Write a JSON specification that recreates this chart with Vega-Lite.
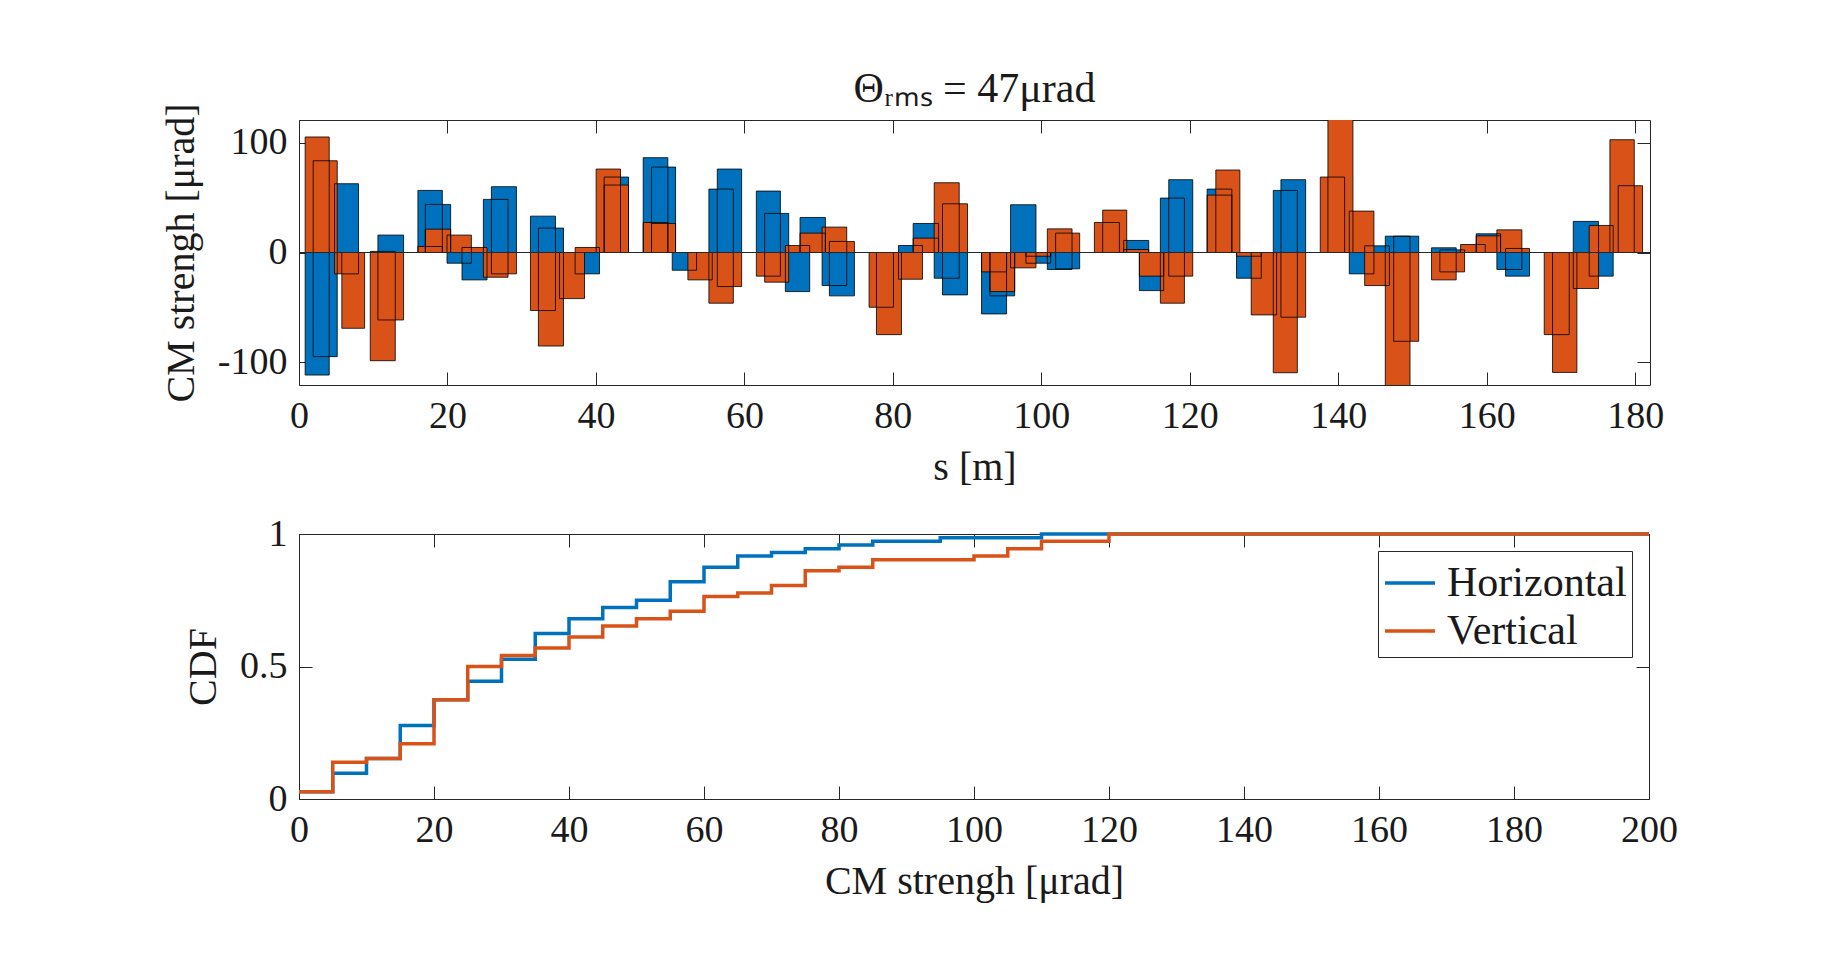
{
  "$schema": "https://vega.github.io/schema/vega-lite/v6.json",
  "background": "white",
  "padding": {"left": 160, "top": 67, "right": 5, "bottom": 5},
  "datasets": {
    "cm": [
      {"s0": 0.83, "s1": 4.07, "plane": "Horizontal", "theta": -111.9},
      {"s0": 1.91, "s1": 5.15, "plane": "Horizontal", "theta": -95.1},
      {"s0": 4.79, "s1": 8.02, "plane": "Horizontal", "theta": 62.8},
      {"s0": 5.77, "s1": 8.84, "plane": "Horizontal", "theta": 0},
      {"s0": 9.6, "s1": 12.97, "plane": "Horizontal", "theta": 1},
      {"s0": 10.63, "s1": 14.09, "plane": "Horizontal", "theta": 15.9},
      {"s0": 16.02, "s1": 19.31, "plane": "Horizontal", "theta": 56.7},
      {"s0": 17.02, "s1": 20.43, "plane": "Horizontal", "theta": 43.9},
      {"s0": 19.94, "s1": 23.22, "plane": "Horizontal", "theta": -9.8},
      {"s0": 21.96, "s1": 25.33, "plane": "Horizontal", "theta": -25},
      {"s0": 24.84, "s1": 28.16, "plane": "Horizontal", "theta": 48.5},
      {"s0": 25.92, "s1": 29.29, "plane": "Horizontal", "theta": 60.1},
      {"s0": 31.18, "s1": 34.55, "plane": "Horizontal", "theta": 33.2},
      {"s0": 32.25, "s1": 35.63, "plane": "Horizontal", "theta": 22.3},
      {"s0": 35.09, "s1": 38.46, "plane": "Horizontal", "theta": 0},
      {"s0": 37.2, "s1": 40.48, "plane": "Horizontal", "theta": -19.5},
      {"s0": 40.03, "s1": 43.31, "plane": "Horizontal", "theta": 0},
      {"s0": 41.11, "s1": 44.39, "plane": "Horizontal", "theta": 68.9},
      {"s0": 46.37, "s1": 49.69, "plane": "Horizontal", "theta": 86.6},
      {"s0": 47.49, "s1": 50.73, "plane": "Horizontal", "theta": 78},
      {"s0": 50.28, "s1": 53.56, "plane": "Horizontal", "theta": -16.2},
      {"s0": 52.39, "s1": 55.67, "plane": "Horizontal", "theta": 0},
      {"s0": 55.22, "s1": 58.51, "plane": "Horizontal", "theta": 57.9},
      {"s0": 56.35, "s1": 59.63, "plane": "Horizontal", "theta": 76.2},
      {"s0": 61.61, "s1": 64.85, "plane": "Horizontal", "theta": 56.1},
      {"s0": 62.73, "s1": 65.97, "plane": "Horizontal", "theta": 35.7},
      {"s0": 65.52, "s1": 68.8, "plane": "Horizontal", "theta": -35.7},
      {"s0": 67.5, "s1": 70.91, "plane": "Horizontal", "theta": 32},
      {"s0": 70.47, "s1": 73.79, "plane": "Horizontal", "theta": -30.2},
      {"s0": 71.45, "s1": 74.82, "plane": "Horizontal", "theta": -39.6},
      {"s0": 76.8, "s1": 80.08, "plane": "Horizontal", "theta": 0},
      {"s0": 77.79, "s1": 81.16, "plane": "Horizontal", "theta": 0},
      {"s0": 80.76, "s1": 83.99, "plane": "Horizontal", "theta": 6.4},
      {"s0": 82.74, "s1": 86.16, "plane": "Horizontal", "theta": 26.5},
      {"s0": 85.57, "s1": 88.94, "plane": "Horizontal", "theta": -23.5},
      {"s0": 86.69, "s1": 90.06, "plane": "Horizontal", "theta": -38.7},
      {"s0": 91.95, "s1": 95.32, "plane": "Horizontal", "theta": -56.1},
      {"s0": 93.08, "s1": 96.41, "plane": "Horizontal", "theta": -39.6},
      {"s0": 95.86, "s1": 99.28, "plane": "Horizontal", "theta": 43.6},
      {"s0": 97.93, "s1": 101.26, "plane": "Horizontal", "theta": -9.8},
      {"s0": 100.81, "s1": 104.14, "plane": "Horizontal", "theta": -15.5},
      {"s0": 101.93, "s1": 105.17, "plane": "Horizontal", "theta": -14.9},
      {"s0": 107.15, "s1": 110.52, "plane": "Horizontal", "theta": 0},
      {"s0": 108.27, "s1": 111.51, "plane": "Horizontal", "theta": 0},
      {"s0": 111.1, "s1": 114.47, "plane": "Horizontal", "theta": 11},
      {"s0": 113.21, "s1": 116.49, "plane": "Horizontal", "theta": -34.8},
      {"s0": 116.04, "s1": 119.28, "plane": "Horizontal", "theta": 49.7},
      {"s0": 117.17, "s1": 120.4, "plane": "Horizontal", "theta": 66.5},
      {"s0": 122.34, "s1": 125.67, "plane": "Horizontal", "theta": 57.9},
      {"s0": 123.51, "s1": 126.75, "plane": "Horizontal", "theta": 0},
      {"s0": 126.3, "s1": 129.63, "plane": "Horizontal", "theta": -23.5},
      {"s0": 128.28, "s1": 131.7, "plane": "Horizontal", "theta": 0},
      {"s0": 131.25, "s1": 134.49, "plane": "Horizontal", "theta": 56.7},
      {"s0": 132.28, "s1": 135.61, "plane": "Horizontal", "theta": 66.5},
      {"s0": 137.58, "s1": 140.86, "plane": "Horizontal", "theta": 0},
      {"s0": 138.61, "s1": 141.98, "plane": "Horizontal", "theta": 0},
      {"s0": 141.49, "s1": 144.81, "plane": "Horizontal", "theta": -19.5},
      {"s0": 143.56, "s1": 146.89, "plane": "Horizontal", "theta": 6.1},
      {"s0": 146.34, "s1": 149.67, "plane": "Horizontal", "theta": 14.9},
      {"s0": 147.47, "s1": 150.84, "plane": "Horizontal", "theta": 14.9},
      {"s0": 152.57, "s1": 155.89, "plane": "Horizontal", "theta": 4.3},
      {"s0": 153.69, "s1": 157.02, "plane": "Horizontal", "theta": 2.4},
      {"s0": 156.48, "s1": 159.8, "plane": "Horizontal", "theta": 0},
      {"s0": 158.59, "s1": 161.87, "plane": "Horizontal", "theta": 17.1},
      {"s0": 161.37, "s1": 164.74, "plane": "Horizontal", "theta": -15.5},
      {"s0": 162.54, "s1": 165.77, "plane": "Horizontal", "theta": -21.6},
      {"s0": 167.75, "s1": 171.12, "plane": "Horizontal", "theta": 0},
      {"s0": 168.87, "s1": 172.15, "plane": "Horizontal", "theta": 0},
      {"s0": 171.66, "s1": 175.07, "plane": "Horizontal", "theta": 28.4},
      {"s0": 173.81, "s1": 177.04, "plane": "Horizontal", "theta": -21.6},
      {"s0": 176.6, "s1": 179.88, "plane": "Horizontal", "theta": 0},
      {"s0": 177.72, "s1": 181.0, "plane": "Horizontal", "theta": 0},
      {"s0": 0.83, "s1": 4.07, "plane": "Vertical", "theta": 105.5},
      {"s0": 1.91, "s1": 5.15, "plane": "Vertical", "theta": 83.8},
      {"s0": 4.79, "s1": 8.02, "plane": "Vertical", "theta": -19.5},
      {"s0": 5.77, "s1": 8.84, "plane": "Vertical", "theta": -69.2},
      {"s0": 9.6, "s1": 12.97, "plane": "Vertical", "theta": -98.8},
      {"s0": 10.63, "s1": 14.09, "plane": "Vertical", "theta": -61.6},
      {"s0": 16.02, "s1": 19.31, "plane": "Vertical", "theta": 5.5},
      {"s0": 17.02, "s1": 20.43, "plane": "Vertical", "theta": 21.3},
      {"s0": 19.94, "s1": 23.22, "plane": "Vertical", "theta": 15.9},
      {"s0": 21.96, "s1": 25.33, "plane": "Vertical", "theta": 4.6},
      {"s0": 24.84, "s1": 28.16, "plane": "Vertical", "theta": -22.6},
      {"s0": 25.92, "s1": 29.29, "plane": "Vertical", "theta": -19.5},
      {"s0": 31.18, "s1": 34.55, "plane": "Vertical", "theta": -53},
      {"s0": 32.25, "s1": 35.63, "plane": "Vertical", "theta": -85.4},
      {"s0": 35.09, "s1": 38.46, "plane": "Vertical", "theta": -42.1},
      {"s0": 37.2, "s1": 40.48, "plane": "Vertical", "theta": 4.6},
      {"s0": 40.03, "s1": 43.31, "plane": "Vertical", "theta": 76.2},
      {"s0": 41.11, "s1": 44.39, "plane": "Vertical", "theta": 61.6},
      {"s0": 46.37, "s1": 49.69, "plane": "Vertical", "theta": 27.4},
      {"s0": 47.49, "s1": 50.73, "plane": "Vertical", "theta": 26.5},
      {"s0": 50.28, "s1": 53.56, "plane": "Vertical", "theta": 0},
      {"s0": 52.39, "s1": 55.67, "plane": "Vertical", "theta": -25},
      {"s0": 55.22, "s1": 58.51, "plane": "Vertical", "theta": -46.3},
      {"s0": 56.35, "s1": 59.63, "plane": "Vertical", "theta": -31.1},
      {"s0": 61.61, "s1": 64.85, "plane": "Vertical", "theta": -21.6},
      {"s0": 62.73, "s1": 65.97, "plane": "Vertical", "theta": -27.1},
      {"s0": 65.52, "s1": 68.8, "plane": "Vertical", "theta": 6.4},
      {"s0": 67.5, "s1": 70.91, "plane": "Vertical", "theta": 17.7},
      {"s0": 70.47, "s1": 73.79, "plane": "Vertical", "theta": 23.2},
      {"s0": 71.45, "s1": 74.82, "plane": "Vertical", "theta": 10.1},
      {"s0": 76.8, "s1": 80.08, "plane": "Vertical", "theta": -50},
      {"s0": 77.79, "s1": 81.16, "plane": "Vertical", "theta": -75},
      {"s0": 80.76, "s1": 83.99, "plane": "Vertical", "theta": -24.4},
      {"s0": 82.74, "s1": 86.16, "plane": "Vertical", "theta": 13.1},
      {"s0": 85.57, "s1": 88.94, "plane": "Vertical", "theta": 63.7},
      {"s0": 86.69, "s1": 90.06, "plane": "Vertical", "theta": 44.5},
      {"s0": 91.95, "s1": 95.32, "plane": "Vertical", "theta": -17.7},
      {"s0": 93.08, "s1": 96.41, "plane": "Vertical", "theta": -35.7},
      {"s0": 95.86, "s1": 99.28, "plane": "Vertical", "theta": -14},
      {"s0": 97.93, "s1": 101.26, "plane": "Vertical", "theta": -3.4},
      {"s0": 100.81, "s1": 104.14, "plane": "Vertical", "theta": 21.6},
      {"s0": 101.93, "s1": 105.17, "plane": "Vertical", "theta": 17.7},
      {"s0": 107.15, "s1": 110.52, "plane": "Vertical", "theta": 27.4},
      {"s0": 108.27, "s1": 111.51, "plane": "Vertical", "theta": 38.7},
      {"s0": 111.1, "s1": 114.47, "plane": "Vertical", "theta": 2.7},
      {"s0": 113.21, "s1": 116.49, "plane": "Vertical", "theta": -21.6},
      {"s0": 116.04, "s1": 119.28, "plane": "Vertical", "theta": -46.3},
      {"s0": 117.17, "s1": 120.4, "plane": "Vertical", "theta": -21.6},
      {"s0": 122.34, "s1": 125.67, "plane": "Vertical", "theta": 52.4},
      {"s0": 123.51, "s1": 126.75, "plane": "Vertical", "theta": 75.3},
      {"s0": 126.3, "s1": 129.63, "plane": "Vertical", "theta": -3.4},
      {"s0": 128.28, "s1": 131.7, "plane": "Vertical", "theta": -57},
      {"s0": 131.25, "s1": 134.49, "plane": "Vertical", "theta": -109.8},
      {"s0": 132.28, "s1": 135.61, "plane": "Vertical", "theta": -59.1},
      {"s0": 137.58, "s1": 140.86, "plane": "Vertical", "theta": 68.9},
      {"s0": 138.61, "s1": 141.98, "plane": "Vertical", "theta": 125},
      {"s0": 141.49, "s1": 144.81, "plane": "Vertical", "theta": 37.8},
      {"s0": 143.56, "s1": 146.89, "plane": "Vertical", "theta": -30.2},
      {"s0": 146.34, "s1": 149.67, "plane": "Vertical", "theta": -125},
      {"s0": 147.47, "s1": 150.84, "plane": "Vertical", "theta": -81.1},
      {"s0": 152.57, "s1": 155.89, "plane": "Vertical", "theta": -25},
      {"s0": 153.69, "s1": 157.02, "plane": "Vertical", "theta": -17.7},
      {"s0": 156.48, "s1": 159.8, "plane": "Vertical", "theta": 7.3},
      {"s0": 158.59, "s1": 161.87, "plane": "Vertical", "theta": 15.2},
      {"s0": 161.37, "s1": 164.74, "plane": "Vertical", "theta": 20.7},
      {"s0": 162.54, "s1": 165.77, "plane": "Vertical", "theta": 3.7},
      {"s0": 167.75, "s1": 171.12, "plane": "Vertical", "theta": -75},
      {"s0": 168.87, "s1": 172.15, "plane": "Vertical", "theta": -109.5},
      {"s0": 171.66, "s1": 175.07, "plane": "Vertical", "theta": -32.9},
      {"s0": 173.81, "s1": 177.04, "plane": "Vertical", "theta": 24.7},
      {"s0": 176.6, "s1": 179.88, "plane": "Vertical", "theta": 103},
      {"s0": 177.72, "s1": 181.0, "plane": "Vertical", "theta": 61}
    ],
    "cdf": [
      {"x": 0, "plane": "Horizontal", "cdf": 0.0278},
      {"x": 5, "plane": "Horizontal", "cdf": 0.0972},
      {"x": 10, "plane": "Horizontal", "cdf": 0.1528},
      {"x": 15, "plane": "Horizontal", "cdf": 0.2778},
      {"x": 20, "plane": "Horizontal", "cdf": 0.375},
      {"x": 25, "plane": "Horizontal", "cdf": 0.4444},
      {"x": 30, "plane": "Horizontal", "cdf": 0.5278},
      {"x": 35, "plane": "Horizontal", "cdf": 0.625},
      {"x": 40, "plane": "Horizontal", "cdf": 0.6806},
      {"x": 45, "plane": "Horizontal", "cdf": 0.7222},
      {"x": 50, "plane": "Horizontal", "cdf": 0.75},
      {"x": 55, "plane": "Horizontal", "cdf": 0.8194},
      {"x": 60, "plane": "Horizontal", "cdf": 0.875},
      {"x": 65, "plane": "Horizontal", "cdf": 0.9167},
      {"x": 70, "plane": "Horizontal", "cdf": 0.9306},
      {"x": 75, "plane": "Horizontal", "cdf": 0.9444},
      {"x": 80, "plane": "Horizontal", "cdf": 0.9583},
      {"x": 85, "plane": "Horizontal", "cdf": 0.9722},
      {"x": 95, "plane": "Horizontal", "cdf": 0.9861},
      {"x": 110, "plane": "Horizontal", "cdf": 1},
      {"x": 200, "plane": "Horizontal", "cdf": 1},
      {"x": 0, "plane": "Vertical", "cdf": 0.0278},
      {"x": 5, "plane": "Vertical", "cdf": 0.1389},
      {"x": 10, "plane": "Vertical", "cdf": 0.1528},
      {"x": 15, "plane": "Vertical", "cdf": 0.2083},
      {"x": 20, "plane": "Vertical", "cdf": 0.375},
      {"x": 25, "plane": "Vertical", "cdf": 0.5},
      {"x": 30, "plane": "Vertical", "cdf": 0.5417},
      {"x": 35, "plane": "Vertical", "cdf": 0.5694},
      {"x": 40, "plane": "Vertical", "cdf": 0.6111},
      {"x": 45, "plane": "Vertical", "cdf": 0.6528},
      {"x": 50, "plane": "Vertical", "cdf": 0.6806},
      {"x": 55, "plane": "Vertical", "cdf": 0.7083},
      {"x": 60, "plane": "Vertical", "cdf": 0.7639},
      {"x": 65, "plane": "Vertical", "cdf": 0.7778},
      {"x": 70, "plane": "Vertical", "cdf": 0.8056},
      {"x": 75, "plane": "Vertical", "cdf": 0.8611},
      {"x": 80, "plane": "Vertical", "cdf": 0.875},
      {"x": 85, "plane": "Vertical", "cdf": 0.9028},
      {"x": 100, "plane": "Vertical", "cdf": 0.9167},
      {"x": 105, "plane": "Vertical", "cdf": 0.9444},
      {"x": 110, "plane": "Vertical", "cdf": 0.9722},
      {"x": 120, "plane": "Vertical", "cdf": 1},
      {"x": 200, "plane": "Vertical", "cdf": 1}
    ]
  },
  "config": {
    "font": "Liberation Serif",
    "view": {"stroke": "#262626", "strokeWidth": 1},
    "axis": {
      "grid": false,
      "domain": false,
      "tickColor": "#262626",
      "tickSize": -13,
      "tickWidth": 1,
      "labelFlush": false,
      "labelFont": "Liberation Serif",
      "labelFontSize": 38,
      "labelColor": "#1a1a1a",
      "labelPadding": 25,
      "titleFont": "Liberation Serif",
      "titleFontSize": 40,
      "titleFontWeight": "normal",
      "titleColor": "#1a1a1a"
    },
    "title": {"font": "Liberation Serif", "fontSize": 42, "fontWeight": "normal", "color": "#1a1a1a"}
  },
  "spacing": 149,
  "bounds": "flush",
  "resolve": {"scale": {"color": "independent"}, "legend": {"color": "independent"}},
  "vconcat": [
    {
      "width": 1351,
      "height": 265,
      "title": {"text": "Θᵣₘₛ = 47μrad", "offset": -8},
      "data": {"name": "cm"},
      "layer": [
        {
          "mark": {"type": "rect", "clip": true, "strokeWidth": 0},
          "encoding": {
            "x": {"field": "s0", "type": "quantitative", "scale": {"domain": [0, 182], "nice": false, "zero": false},
                  "axis": {"values": [0, 20, 40, 60, 80, 100, 120, 140, 160, 180], "title": "s [m]", "titlePadding": 12}},
            "x2": {"field": "s1"},
            "y": {"field": "theta", "type": "quantitative", "scale": {"domain": [-121, 121], "nice": false},
                  "axis": {"values": [-100, 0, 100], "title": "CM strengh [μrad]", "titlePadding": 16, "labelExpr": "datum.value + ''"}},
            "y2": {"datum": 0},
            "color": {"field": "plane", "type": "nominal", "scale": {"domain": ["Horizontal", "Vertical"], "range": ["#0072BD", "#D95319"]}, "legend": null}
          }
        },
        {
          "mark": {"type": "rect", "clip": true, "fill": "transparent", "stroke": "#000000", "strokeOpacity": 0.8, "strokeWidth": 1},
          "encoding": {
            "x": {"field": "s0", "type": "quantitative",
                  "axis": {"orient": "top", "values": [0, 20, 40, 60, 80, 100, 120, 140, 160, 180], "labels": false, "title": null}},
            "x2": {"field": "s1"},
            "y": {"field": "theta", "type": "quantitative",
                  "axis": {"orient": "right", "values": [-100, 0, 100], "labels": false, "title": null}},
            "y2": {"datum": 0}
          }
        },
        {
          "mark": {"type": "rule", "color": "#262626", "strokeWidth": 1},
          "encoding": {"y": {"datum": 0, "type": "quantitative", "axis": null}}
        }
      ],
      "resolve": {"axis": {"x": "independent", "y": "independent"}}
    },
    {
      "width": 1350,
      "height": 265,
      "data": {"name": "cdf"},
      "layer": [
        {
          "mark": {"type": "line", "interpolate": "step-after", "strokeWidth": 3.5},
          "encoding": {
            "x": {"field": "x", "type": "quantitative", "scale": {"domain": [0, 200], "nice": false},
                  "axis": {"values": [0, 20, 40, 60, 80, 100, 120, 140, 160, 180, 200], "title": "CM strengh [μrad]", "titlePadding": 12}},
            "y": {"field": "cdf", "type": "quantitative", "scale": {"domain": [0, 1], "nice": false},
                  "axis": {"values": [0, 0.5, 1], "title": "CDF", "titlePadding": 16, "labelExpr": "datum.value + ''"}},
            "color": {"field": "plane", "type": "nominal", "scale": {"domain": ["Horizontal", "Vertical"], "range": ["#0072BD", "#D95319"]},
                      "legend": {"orient": "top-right", "offset": 17, "title": null, "labelFont": "Liberation Serif", "labelFontSize": 42,
                                 "labelColor": "#1a1a1a", "symbolType": "stroke", "symbolStrokeWidth": 3.5, "symbolSize": 2500,
                                 "strokeColor": "#262626", "fillColor": "white", "padding": 5, "rowPadding": 0, "labelOffset": 10, "labelLimit": 400}}
          }
        },
        {
          "mark": {"type": "point", "opacity": 0},
          "encoding": {
            "x": {"field": "x", "type": "quantitative",
                  "axis": {"orient": "top", "values": [0, 20, 40, 60, 80, 100, 120, 140, 160, 180, 200], "labels": false, "title": null}},
            "y": {"field": "cdf", "type": "quantitative",
                  "axis": {"orient": "right", "values": [0, 0.5, 1], "labels": false, "title": null}}
          }
        }
      ],
      "resolve": {"axis": {"x": "independent", "y": "independent"}}
    }
  ]
}
